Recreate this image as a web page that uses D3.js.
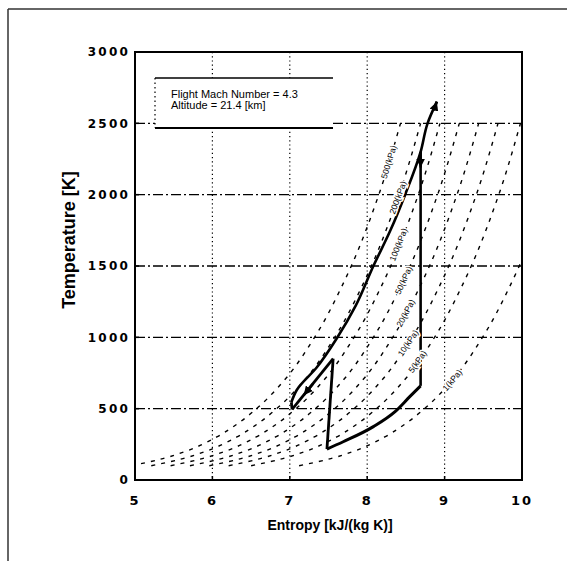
<!DOCTYPE html>
<html><head><meta charset="utf-8">
<script src="https://cdn.jsdelivr.net/npm/d3@7/dist/d3.min.js"></script>
<style>body{margin:0;background:#fff}svg{display:block}</style>
</head><body>
<script>
// ---------- data ----------
const xTicks = [5, 6, 7, 8, 9, 10];
const yTicks = [0, 500, 1000, 1500, 2000, 2500, 3000];
const xGrid = [6, 7, 8, 9];
const yGrid = [500, 1000, 1500, 2000, 2500];

// isobars: temperatures and entropy of each isobar at those temperatures
const isobarT = [100, 150, 200, 300, 400, 500, 700, 1000, 1400, 2000, 2500];
const isobar1 = [4.95, 5.36, 5.65, 6.05, 6.34, 6.57, 6.93, 7.32, 7.71, 8.15, 8.43];
const isobar2 = [5.21, 5.62, 5.91, 6.31, 6.60, 6.83, 7.19, 7.58, 7.97, 8.41, 8.69];
const isobar3 = [5.46, 5.87, 6.16, 6.56, 6.85, 7.08, 7.44, 7.83, 8.22, 8.66, 8.94];
const isobar4 = [5.71, 6.12, 6.41, 6.81, 7.10, 7.33, 7.69, 8.08, 8.47, 8.91, 9.19];
const isobar5 = [5.96, 6.37, 6.66, 7.06, 7.35, 7.58, 7.94, 8.33, 8.72, 9.16, 9.44];
const isobar6 = [6.21, 6.62, 6.91, 7.31, 7.60, 7.83, 8.19, 8.58, 8.97, 9.41, 9.69];
const isobar7 = [6.50, 6.91, 7.20, 7.60, 7.89, 8.12, 8.48, 8.87, 9.26, 9.70, 9.98];
const isobar8 = [7.12, 7.53, 7.82, 8.22, 8.51, 8.74, 9.10, 9.49, 9.88, 10.32, 10.60];
const isobarLabels = ["500(kPa)", "200(kPa)", "100(kPa)", "50(kPa)", "20(kPa)", "10(kPa)", "5(kPa)", "1(kPa)"];
const isobarLabelT = [2230, 1980, 1650, 1400, 1170, 960, 830, 700];

// engine cycle
const compressionS = [7.48, 7.56];
const compressionT = [217, 850];
const mixingS = [7.56, 7.03];
const mixingT = [850, 495];
const connectS = [7.03, 7.02];
const connectT = [495, 545];
const combustionS = [7.02, 7.09, 7.35, 7.61, 7.85, 8.08, 8.30, 8.49, 8.69, 8.78, 8.90];
const combustionT = [545, 631, 790, 995, 1220, 1500, 1750, 2000, 2300, 2500, 2652];
const expansionS = [8.69, 8.69];
const expansionT = [2300, 660];
const rejectionS = [8.69, 8.55, 8.36, 8.08, 7.69, 7.48];
const rejectionT = [660, 584, 479, 374, 268, 217];
// arrow heads (from -> to)
const arrowFromS = [8.86, 8.69, 7.30];
const arrowFromT = [2590, 2300, 675];
const arrowToS = [8.90, 8.69, 7.18];
const arrowToT = [2652, 2190, 594];

const legendLines = ["Flight Mach Number = 4.3", "Altitude = 21.4 [km]"];
const xTitle = "Entropy [kJ/(kg K)]";
const yTitle = "Temperature [K]";

// ---------- drawing ----------
const W = 567, H = 561;
const L = 135, R = 522, T = 52, B = 480;
const svg = d3.select("body").append("svg").attr("width", W).attr("height", H);

// page frame
svg.append("line").attr("x1", 8).attr("x2", W).attr("y1", 9).attr("y2", 9)
  .attr("stroke", "#333").attr("stroke-width", 1.5);
svg.append("line").attr("x1", 8).attr("x2", 8).attr("y1", 9).attr("y2", H)
  .attr("stroke", "#333").attr("stroke-width", 1.5);

const x = d3.scaleLinear().domain([5, 10]).range([L, R]);
const y = d3.scaleLinear().domain([0, 3000]).range([B, T]);

const defs = svg.append("defs");
defs.append("clipPath").attr("id", "clip")
  .append("rect").attr("x", L).attr("y", T).attr("width", R - L).attr("height", B - T);
defs.append("marker").attr("id", "arr").attr("viewBox", "0 0 10 10")
  .attr("refX", 10).attr("refY", 5).attr("markerWidth", 9).attr("markerHeight", 9)
  .attr("markerUnits", "userSpaceOnUse").attr("orient", "auto")
  .append("path").attr("d", "M0,0L10,5L0,10z").attr("fill", "#000");

const plot = svg.append("g").attr("clip-path", "url(#clip)");

// grid
plot.selectAll(".vg").data(xGrid).enter().append("line")
  .attr("x1", d => x(d)).attr("x2", d => x(d)).attr("y1", T).attr("y2", B)
  .attr("stroke", "#000").attr("stroke-width", 1.2).attr("stroke-dasharray", "1.2,3");
plot.selectAll(".hg").data(yGrid).enter().append("line")
  .attr("x1", L).attr("x2", R).attr("y1", d => y(d)).attr("y2", d => y(d))
  .attr("stroke", "#000").attr("stroke-width", 1.3).attr("stroke-dasharray", "10,3,2,3");

// isobars
const isobars = [isobar1, isobar2, isobar3, isobar4, isobar5, isobar6, isobar7, isobar8];
const line = d3.line().x(d => x(d[0])).y(d => y(d[1])).curve(d3.curveMonotoneY);
isobars.forEach(arr => {
  const pts = arr.map((s, i) => [s, isobarT[i]]);
  plot.append("path").attr("d", line(pts)).attr("fill", "none")
    .attr("stroke", "#000").attr("stroke-width", 1.4).attr("stroke-dasharray", "4,6");
});

// cycle
const poly = d3.line().x(d => x(d[0])).y(d => y(d[1])).curve(d3.curveLinear);
const smooth = d3.line().x(d => x(d[0])).y(d => y(d[1])).curve(d3.curveMonotoneY);
function seg(S, Tt, w, curve) {
  const pts = S.map((s, i) => [s, Tt[i]]);
  plot.append("path").attr("d", (curve || poly)(pts)).attr("fill", "none")
    .attr("stroke", "#000").attr("stroke-width", w).attr("stroke-linejoin", "round");
}
seg(compressionS, compressionT, 2.8);
seg(mixingS, mixingT, 2.8);
seg(connectS, connectT, 2.8);
seg(combustionS, combustionT, 2.6, smooth);
seg(expansionS, expansionT, 2.6);
seg(rejectionS, rejectionT, 3, d3.line().x(d => x(d[0])).y(d => y(d[1])).curve(d3.curveMonotoneX));

arrowFromS.forEach((s, i) => {
  plot.append("line").attr("x1", x(s)).attr("y1", y(arrowFromT[i]))
    .attr("x2", x(arrowToS[i])).attr("y2", y(arrowToT[i]))
    .attr("stroke", "#000").attr("stroke-width", 2.5).attr("marker-end", "url(#arr)");
});

// isobar labels
isobars.forEach((arr, i) => {
  const sAt = d3.scaleLinear().domain(isobarT).range(arr);
  const t = isobarLabelT[i];
  const px = x(sAt(t)), py = y(t);
  const dx = x(sAt(t + 60)) - x(sAt(t - 60)), dy = y(t + 60) - y(t - 60);
  const ang = Math.atan2(dy, dx) * 180 / Math.PI;
  svg.append("text").attr("transform", `translate(${px},${py}) rotate(${ang})`)
    .attr("text-anchor", "middle").attr("dy", "0.35em")
    .attr("font-family", "Liberation Sans, Arial, sans-serif").attr("font-size", 8.5)
    .attr("stroke", "#fff").attr("stroke-width", 3).attr("paint-order", "stroke")
    .attr("fill", "#000").text(isobarLabels[i]);
});

// axes frame
svg.append("rect").attr("x", L).attr("y", T).attr("width", R - L).attr("height", B - T)
  .attr("fill", "none").attr("stroke", "#000").attr("stroke-width", 2);

// ticks
svg.selectAll(".yt").data(yTicks).enter().append("line")
  .attr("x1", L).attr("x2", L + 4).attr("y1", d => y(d)).attr("y2", d => y(d))
  .attr("stroke", "#000").attr("stroke-width", 1.5);
svg.selectAll(".xt").data(xTicks).enter().append("line")
  .attr("x1", d => x(d)).attr("x2", d => x(d)).attr("y1", B).attr("y2", B - 4)
  .attr("stroke", "#000").attr("stroke-width", 1.5);

svg.selectAll(".ytl").data(yTicks).enter().append("text")
  .attr("x", L - 5).attr("y", d => y(d)).attr("dy", "0.36em").attr("text-anchor", "end")
  .attr("font-family", "DejaVu Sans, sans-serif").attr("font-weight", "bold")
  .attr("font-size", 12).attr("letter-spacing", 2.2).text(d => d);
svg.selectAll(".xtl").data(xTicks).enter().append("text")
  .attr("x", d => x(d)).attr("y", B + 25).attr("text-anchor", "middle")
  .attr("font-family", "DejaVu Sans, sans-serif").attr("font-weight", "bold")
  .attr("font-size", 13).attr("letter-spacing", 2).text(d => d);

// titles
svg.append("text").attr("x", 330).attr("y", 530).attr("text-anchor", "middle")
  .attr("font-family", "Liberation Sans, Arial, sans-serif").attr("font-weight", "bold")
  .attr("font-size", 14).text(xTitle);
svg.append("text").attr("transform", "translate(75,240) rotate(-90)").attr("text-anchor", "middle")
  .attr("font-family", "Liberation Sans, Arial, sans-serif").attr("font-weight", "bold")
  .attr("font-size", 18).text(yTitle);

// legend box
const lg = svg.append("g");
lg.append("rect").attr("x", 155).attr("y", 78).attr("width", 178).attr("height", 50).attr("fill", "#fff");
lg.append("line").attr("x1", 155).attr("x2", 333).attr("y1", 78).attr("y2", 78).attr("stroke", "#000").attr("stroke-width", 1.6);
lg.append("line").attr("x1", 155).attr("x2", 333).attr("y1", 128).attr("y2", 128).attr("stroke", "#000").attr("stroke-width", 1.8);
lg.append("line").attr("x1", 155).attr("x2", 155).attr("y1", 78).attr("y2", 128).attr("stroke", "#000").attr("stroke-width", 1.2).attr("stroke-dasharray", "1.5,3");
lg.selectAll(".lt").data(legendLines).enter().append("text")
  .attr("x", 171).attr("y", (d, i) => 97.5 + i * 11.5)
  .attr("font-family", "Liberation Sans, Arial, sans-serif").attr("font-size", 11)
  .attr("fill", "#000").text(d => d);
</script>
</body></html>
